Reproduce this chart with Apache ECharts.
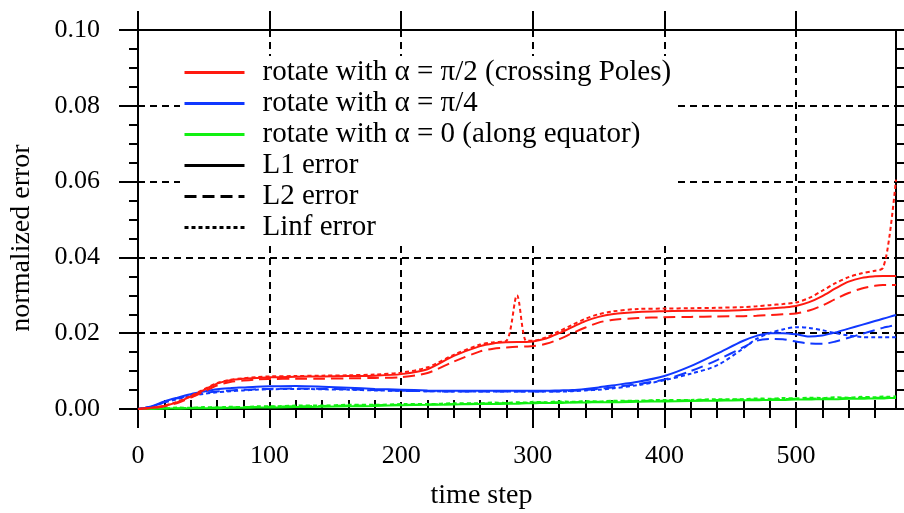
<!DOCTYPE html>
<html><head><meta charset="utf-8">
<script src="https://cdn.jsdelivr.net/npm/echarts@6/dist/echarts.min.js"></script>
<style>html,body{margin:0;padding:0;background:#fff}#c{width:904px;height:513px}</style>
</head><body><div id="c"></div>
<script>
// ---------- data ----------
const steps = [
  0,10,20,30,40,50,60,70,80,90,
  100,120,140,160,180,200,220,240,260,
  270,280,288,295,300,310,320,330,340,350,360,
  380,400,420,440,460,470,480,490,500,
  510,520,530,540,550,560,566,571,576
];
const redL1 = [
  0,0.0003,0.0008,0.0018,0.0033,0.0050,0.0067,0.0076,0.0080,0.0082,
  0.0084,0.0085,0.0086,0.0087,0.0088,0.0092,0.0105,0.0140,0.0166,
  0.0173,0.0176,0.0177,0.0177,0.0178,0.0186,0.0200,0.0216,0.0232,0.0243,0.0250,
  0.0256,0.0258,0.0259,0.0259,0.0261,0.0263,0.0265,0.0268,0.0272,
  0.0282,0.0298,0.0318,0.0336,0.0346,0.0350,0.0351,0.0351,0.0351
];
const redL2 = [
  0,0.0002,0.0007,0.0016,0.0030,0.0046,0.0062,0.0071,0.0075,0.0078,
  0.0079,0.0080,0.0080,0.0081,0.0082,0.0084,0.0095,0.0125,0.0152,
  0.0159,0.0162,0.0164,0.0165,0.0166,0.0172,0.0184,0.0200,0.0215,0.0228,0.0235,
  0.0240,0.0242,0.0243,0.0244,0.0245,0.0246,0.0248,0.0250,0.0252,
  0.0260,0.0273,0.0290,0.0306,0.0318,0.0325,0.0327,0.0327,0.0327
];
const redLinf = [
  0,0.0003,0.0009,0.0019,0.0034,0.0052,0.0068,0.0077,0.0081,0.0084,
  0.0086,0.0087,0.0088,0.0089,0.0091,0.0096,0.0110,0.0143,0.0170,
  0.0176,0.0180,0.0300,0.0180,0.0180,0.0189,0.0205,0.0222,0.0238,0.0250,0.0257,
  0.0264,0.0265,0.0266,0.0267,0.0269,0.0271,0.0274,0.0277,0.0281,
  0.0293,0.0312,0.0332,0.0348,0.0358,0.0365,0.0372,0.0455,0.0605
];
const blueL1 = [
  0,0.0007,0.0020,0.0030,0.0039,0.0046,0.0052,0.0055,0.0057,0.0059,
  0.0060,0.0061,0.0059,0.0056,0.0053,0.0051,0.0049,0.0048,0.0048,
  0.0048,0.0048,0.0048,0.0048,0.0048,0.0048,0.0049,0.0050,0.0053,0.0057,0.0062,
  0.0072,0.0087,0.0113,0.0146,0.0180,0.0193,0.0200,0.0200,0.0197,
  0.0191,0.0194,0.0202,0.0212,0.0222,0.0232,0.0238,0.0243,0.0248
];
const blueL2 = [
  0,0.0006,0.0018,0.0028,0.0036,0.0042,0.0046,0.0049,0.0051,0.0052,
  0.0053,0.0054,0.0053,0.0052,0.0050,0.0048,0.0047,0.0046,0.0046,
  0.0046,0.0046,0.0046,0.0046,0.0046,0.0046,0.0047,0.0048,0.0050,0.0053,0.0057,
  0.0066,0.0078,0.0100,0.0129,0.0163,0.0180,0.0185,0.0184,0.0178,
  0.0173,0.0172,0.0178,0.0188,0.0198,0.0208,0.0214,0.0218,0.0222
];
const blueLinf = [
  0,0.0006,0.0017,0.0026,0.0034,0.0040,0.0044,0.0047,0.0049,0.0051,
  0.0052,0.0053,0.0052,0.0051,0.0049,0.0048,0.0047,0.0046,0.0046,
  0.0046,0.0046,0.0046,0.0046,0.0046,0.0046,0.0046,0.0047,0.0049,0.0051,0.0054,
  0.0063,0.0076,0.0093,0.0115,0.0160,0.0185,0.0200,0.0210,0.0216,
  0.0214,0.0208,0.0200,0.0194,0.0190,0.0189,0.0189,0.0189,0.0189
];
const greenL1 = [
  0,0.0000,0.0001,0.0001,0.0002,0.0002,0.0002,0.0003,0.0003,0.0004,
  0.0004,0.0005,0.0006,0.0007,0.0008,0.0010,0.0011,0.0012,0.0013,
  0.0013,0.0014,0.0014,0.0015,0.0015,0.0016,0.0016,0.0017,0.0017,0.0018,0.0018,
  0.0019,0.0020,0.0021,0.0022,0.0023,0.0023,0.0024,0.0024,0.0025,
  0.0025,0.0026,0.0026,0.0027,0.0027,0.0028,0.0028,0.0029,0.0029
];
const greenL2 = [
  0,0.0001,0.0002,0.0002,0.0003,0.0003,0.0004,0.0004,0.0005,0.0005,
  0.0006,0.0007,0.0008,0.0009,0.0010,0.0011,0.0012,0.0013,0.0014,
  0.0015,0.0015,0.0016,0.0016,0.0017,0.0017,0.0018,0.0018,0.0019,0.0019,0.0020,
  0.0021,0.0022,0.0023,0.0024,0.0025,0.0025,0.0026,0.0026,0.0027,
  0.0027,0.0028,0.0028,0.0029,0.0029,0.0030,0.0030,0.0031,0.0031
];
const greenLinf = [
  0,0.0002,0.0002,0.0004,0.0003,0.0005,0.0004,0.0006,0.0005,0.0007,
  0.0007,0.0009,0.0009,0.0011,0.0011,0.0013,0.0013,0.0015,0.0015,
  0.0017,0.0016,0.0018,0.0017,0.0019,0.0018,0.0020,0.0019,0.0021,0.0020,0.0022,
  0.0022,0.0024,0.0024,0.0026,0.0026,0.0028,0.0027,0.0029,0.0028,
  0.0030,0.0029,0.0031,0.0030,0.0032,0.0031,0.0033,0.0032,0.0034
];
const xMax = 576;
const xMajorTicks = [0,100,200,300,400,500];
const xMinorTicks = [20,40,60,80,120,140,160,180,220,240,260,280,320,340,360,380,420,440,460,480,520,540,560];
const legendNames = [
  'rotate with α = π/2 (crossing Poles)',
  'rotate with α = π/4',
  'rotate with α = 0 (along equator)',
  'L1 error',
  'L2 error',
  'Linf error'
];

// ---------- chart ----------
const FONT = 'Liberation Serif';
const RED = '#ff1a10', BLUE = '#1038ff', GREEN = '#12f012';
const DASH = [12,6], DOT = [4,3];
const chart = echarts.init(document.getElementById('c'), null, {renderer:'canvas'});
const pairs = vals => steps.map((s,i) => [s, vals[i]]);
const mk = (name, vals, color, type) => ({
  name, type:'line', data: vals ? pairs(vals) : [], xAxisIndex:0, yAxisIndex:0,
  showSymbol:false, symbol:'none', smooth:0.3, clip:true,
  lineStyle:{color, width:2, type}, itemStyle:{color}
});
const black = '#000';
const axisLine = {show:true, onZero:false, lineStyle:{color:black, width:2}};
const majorTick = {show:true, inside:false, length:19, lineStyle:{color:black, width:2}};
const minorTickS = {show:true, inside:false, length:9, lineStyle:{color:black, width:2}};
const gridLine = {show:true, lineStyle:{color:black, width:2, type:[7,5]}};
const xBase = {type:'value', min:0, max:xMax, gridIndex:0};

chart.setOption({
  animation:false,
  backgroundColor:'#fff',
  grid:{left:138, right:8, top:30, bottom:104, containLabel:false, outerBoundsMode:'none'},
  legend:{
    data: legendNames, orient:'vertical', left:180, top:56,
    itemWidth:60, itemHeight:3, itemGap:2, padding:[2,2,2,3],
    backgroundColor:'#fff', selectedMode:false,
    textStyle:{fontFamily:FONT, fontSize:29, lineHeight:29, color:black, padding:[0,0,0,13]},
    lineStyle:{width:3},
    itemStyle:{opacity:0, borderWidth:0}
  },
  xAxis:[
    Object.assign({}, xBase, {position:'bottom', axisLine,
      axisTick:Object.assign({customValues:xMajorTicks}, majorTick),
      axisLabel:{show:true, customValues:xMajorTicks, margin:34, color:black, fontFamily:FONT, fontSize:26},
      splitLine:gridLine,
      name:'time step', nameLocation:'middle', nameGap:73,
      nameTextStyle:{fontFamily:FONT, fontSize:28, color:black, padding:[0,71,0,0]}}),
    Object.assign({}, xBase, {position:'bottom', axisLine:{show:false},
      axisTick:Object.assign({customValues:xMinorTicks}, minorTickS),
      axisLabel:{show:false}, splitLine:{show:false}}),
    Object.assign({}, xBase, {position:'top', axisLine,
      axisTick:Object.assign({customValues:xMajorTicks}, majorTick),
      axisLabel:{show:false}, splitLine:{show:false}}),
    Object.assign({}, xBase, {position:'top', axisLine:{show:false},
      axisTick:Object.assign({customValues:xMinorTicks}, minorTickS),
      axisLabel:{show:false}, splitLine:{show:false}})
  ],
  yAxis:[
    {type:'value', position:'left', min:0, max:0.1, interval:0.02, axisLine,
      axisTick:majorTick, minorTick:Object.assign({splitNumber:4}, minorTickS),
      axisLabel:{formatter:v => v.toFixed(2), margin:38, color:black, fontFamily:FONT, fontSize:26},
      splitLine:gridLine, minorSplitLine:{show:false},
      name:'normalized error', nameLocation:'middle', nameGap:102, nameRotate:90,
      nameTextStyle:{fontFamily:FONT, fontSize:28, color:black, padding:[0,37,0,0]}},
    {type:'value', position:'right', min:0, max:0.1, interval:0.02, axisLine,
      axisTick:majorTick, minorTick:Object.assign({splitNumber:4}, minorTickS),
      axisLabel:{show:false}, splitLine:{show:false}}
  ],
  series:[
    mk('rotate with α = 0 (along equator)', greenL1, GREEN, 'solid'),
    mk('green L2', greenL2, GREEN, DASH),
    mk('green Linf', greenLinf, GREEN, DOT),
    mk('rotate with α = π/4', blueL1, BLUE, 'solid'),
    mk('blue L2', blueL2, BLUE, DASH),
    mk('blue Linf', blueLinf, BLUE, DOT),
    mk('rotate with α = π/2 (crossing Poles)', redL1, RED, 'solid'),
    mk('red L2', redL2, RED, DASH),
    mk('red Linf', redLinf, RED, DOT),
    mk('L1 error', null, black, 'solid'),
    mk('L2 error', null, black, DASH),
    mk('Linf error', null, black, DOT)
  ]
});
</script>
</body></html>
